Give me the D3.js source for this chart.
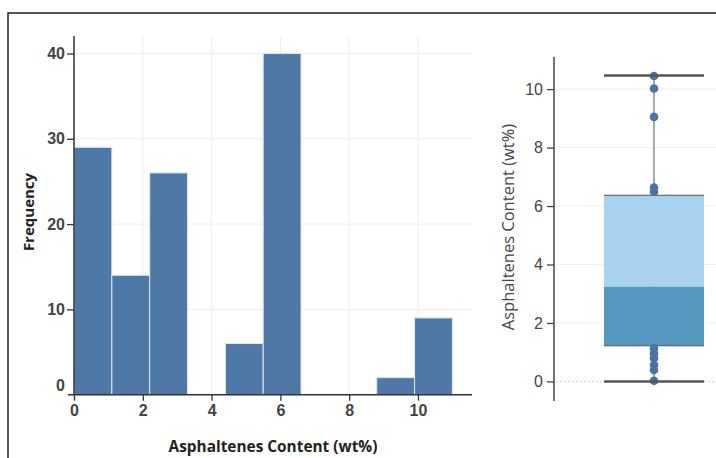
<!DOCTYPE html>
<html>
<head>
<meta charset="utf-8">
<script src="https://cdn.jsdelivr.net/npm/d3@7"></script>
<style>
  body { margin: 0; background: #fff; }
  svg { font-family: "Open Sans", "Noto Sans", sans-serif; }
</style>
</head>
<body>
<div id="chart"></div>
<script>
// histogram bins (width 1.1) and counts
const binStarts = [0, 1.1, 2.2, 3.3, 4.4, 5.5, 6.6, 7.7, 8.8, 9.9];
const binWidth = 1.1;
const binCounts = [29, 14, 26, 0, 6, 40, 0, 0, 2, 9];
const histXTicks = [0, 2, 4, 6, 8, 10];
const histYTicks = [0, 10, 20, 30, 40];

// box plot summary
const boxStats = {min: 0, q1: 1.22, median: 3.24, q3: 6.37, max: 10.47};
const boxPoints = [10.45, 10.02, 9.05, 6.63, 6.49, 1.13, 0.95, 0.79, 0.56, 0.39, 0.02];
const boxYTicks = [0, 2, 4, 6, 8, 10];

const width = 716, height = 458;

const svg = d3.select('#chart').append('svg')
    .attr('width', width)
    .attr('height', height);

// frame
svg.append('rect')
    .attr('x', 8).attr('y', 13)
    .attr('width', width).attr('height', height)
    .attr('fill', 'none')
    .attr('stroke', '#222')
    .attr('stroke-width', 1.5);

// ---------- histogram ----------
const x = d3.scaleLinear().domain([0, 11.57]).range([74, 472]);
const y = d3.scaleLinear().domain([0, 42.05]).range([394.7, 36]);

const hist = svg.append('g');

// grid
hist.selectAll('.vgrid')
  .data(histXTicks)
  .enter().append('line')
    .attr('x1', d => x(d)).attr('x2', d => x(d))
    .attr('y1', y.range()[1]).attr('y2', y(0))
    .attr('stroke', '#eeeeee');
hist.selectAll('.hgrid')
  .data(histYTicks.slice(1))
  .enter().append('line')
    .attr('x1', x(0)).attr('x2', x.range()[1])
    .attr('y1', d => y(d)).attr('y2', d => y(d))
    .attr('stroke', '#eeeeee');

// bars
hist.selectAll('.bar')
  .data(binStarts.map((s, i) => ({x0: s, x1: s + binWidth, n: binCounts[i]})).filter(d => d.n > 0))
  .enter().append('rect')
    .attr('x', d => x(d.x0))
    .attr('width', d => x(d.x1) - x(d.x0))
    .attr('y', d => y(d.n))
    .attr('height', d => y(0) - y(d.n))
    .attr('fill', '#4e79a7')
    .attr('stroke', '#dfe7f0')
    .attr('stroke-width', 1);

// axes
const xAxis = hist.append('g')
    .attr('transform', `translate(0,${y(0)})`)
    .call(d3.axisBottom(x).tickValues(histXTicks).tickSize(6).tickPadding(4).tickSizeOuter(0));
xAxis.select('.domain').attr('d', `M${x(0) - 6},0H${x.range()[1]}`);

const yAxis = hist.append('g')
    .attr('transform', `translate(${x(0)},0)`)
    .call(d3.axisLeft(y).tickValues(histYTicks).tickSize(7).tickPadding(2).tickSizeOuter(0));
yAxis.select('.domain').attr('d', `M0,${y.range()[1]}V${y(0)}`);
// zero label sits above the baseline, without a tick
yAxis.selectAll('.tick').filter(d => d === 0)
    .call(t => t.select('line').remove())
    .select('text').attr('dy', '-0.25em');

[xAxis, yAxis].forEach(a => {
  a.select('.domain').attr('stroke', '#333').attr('stroke-width', 1.5);
  a.selectAll('.tick line').attr('stroke', '#333').attr('stroke-width', 1.3);
  a.selectAll('.tick text')
      .attr('fill', '#444')
      .style('font-size', '16px')
      .style('font-weight', 600);
});

hist.append('text')
    .attr('x', (x(0) + x.range()[1]) / 2)
    .attr('y', 452)
    .attr('text-anchor', 'middle')
    .style('font-size', '15.4px')
    .style('font-weight', 700)
    .attr('fill', '#222')
    .text('Asphaltenes Content (wt%)');

hist.append('text')
    .attr('transform', `translate(34,212) rotate(-90)`)
    .attr('text-anchor', 'middle')
    .style('font-size', '15px')
    .style('font-weight', 700)
    .attr('fill', '#222')
    .text('Frequency');

// ---------- box plot ----------
const by = d3.scaleLinear().domain([-0.67, 11.1]).range([401, 57]);
const bx0 = 554, boxLeft = 604, boxRight = 704, bxMid = 654;

const box = svg.append('g');

box.selectAll('.grid')
  .data(boxYTicks.slice(1))
  .enter().append('line')
    .attr('x1', bx0).attr('x2', width)
    .attr('y1', d => by(d)).attr('y2', d => by(d))
    .attr('stroke', '#f0f0f0');

box.append('line')
    .attr('x1', bx0 + 2).attr('x2', width)
    .attr('y1', by(0)).attr('y2', by(0))
    .attr('stroke', '#c8c8c8')
    .attr('stroke-dasharray', '1.5,2.5');

// whisker
box.append('line')
    .attr('x1', bxMid).attr('x2', bxMid)
    .attr('y1', by(boxStats.max)).attr('y2', by(boxStats.min))
    .attr('stroke', '#555');

// box halves
box.append('rect')
    .attr('x', boxLeft).attr('width', boxRight - boxLeft)
    .attr('y', by(boxStats.q3)).attr('height', by(boxStats.median) - by(boxStats.q3))
    .attr('fill', '#a8d2ee');
box.append('rect')
    .attr('x', boxLeft).attr('width', boxRight - boxLeft)
    .attr('y', by(boxStats.median)).attr('height', by(boxStats.q1) - by(boxStats.median))
    .attr('fill', '#5597be');

box.selectAll('.edge')
  .data([boxStats.q3, boxStats.q1])
  .enter().append('line')
    .attr('x1', boxLeft).attr('x2', boxRight)
    .attr('y1', d => by(d)).attr('y2', d => by(d))
    .attr('stroke', '#555').attr('stroke-width', 1.2);

// points
box.selectAll('.pt')
  .data(boxPoints)
  .enter().append('circle')
    .attr('cx', bxMid)
    .attr('cy', d => by(d))
    .attr('r', 4.3)
    .attr('fill', '#4a73a3');

// caps
box.selectAll('.cap')
  .data([boxStats.max, boxStats.min])
  .enter().append('line')
    .attr('x1', boxLeft).attr('x2', boxRight)
    .attr('y1', d => by(d)).attr('y2', d => by(d))
    .attr('stroke', '#555').attr('stroke-width', 2.5);

const bAxis = box.append('g')
    .attr('transform', `translate(${bx0},0)`)
    .call(d3.axisLeft(by).tickValues(boxYTicks).tickSize(7).tickPadding(4).tickSizeOuter(0));
bAxis.select('.domain').attr('d', `M0,${by.range()[1]}V${by.range()[0]}`)
    .attr('stroke', '#444').attr('stroke-width', 1.5);
bAxis.selectAll('.tick line').attr('stroke', '#444').attr('stroke-width', 1.3);
bAxis.selectAll('.tick text')
    .attr('fill', '#444')
    .style('font-size', '16px');

box.append('text')
    .attr('transform', `translate(514,227) rotate(-90)`)
    .attr('text-anchor', 'middle')
    .style('font-size', '16.5px')
    .attr('fill', '#444')
    .text('Asphaltenes Content (wt%)');
</script>
</body>
</html>
